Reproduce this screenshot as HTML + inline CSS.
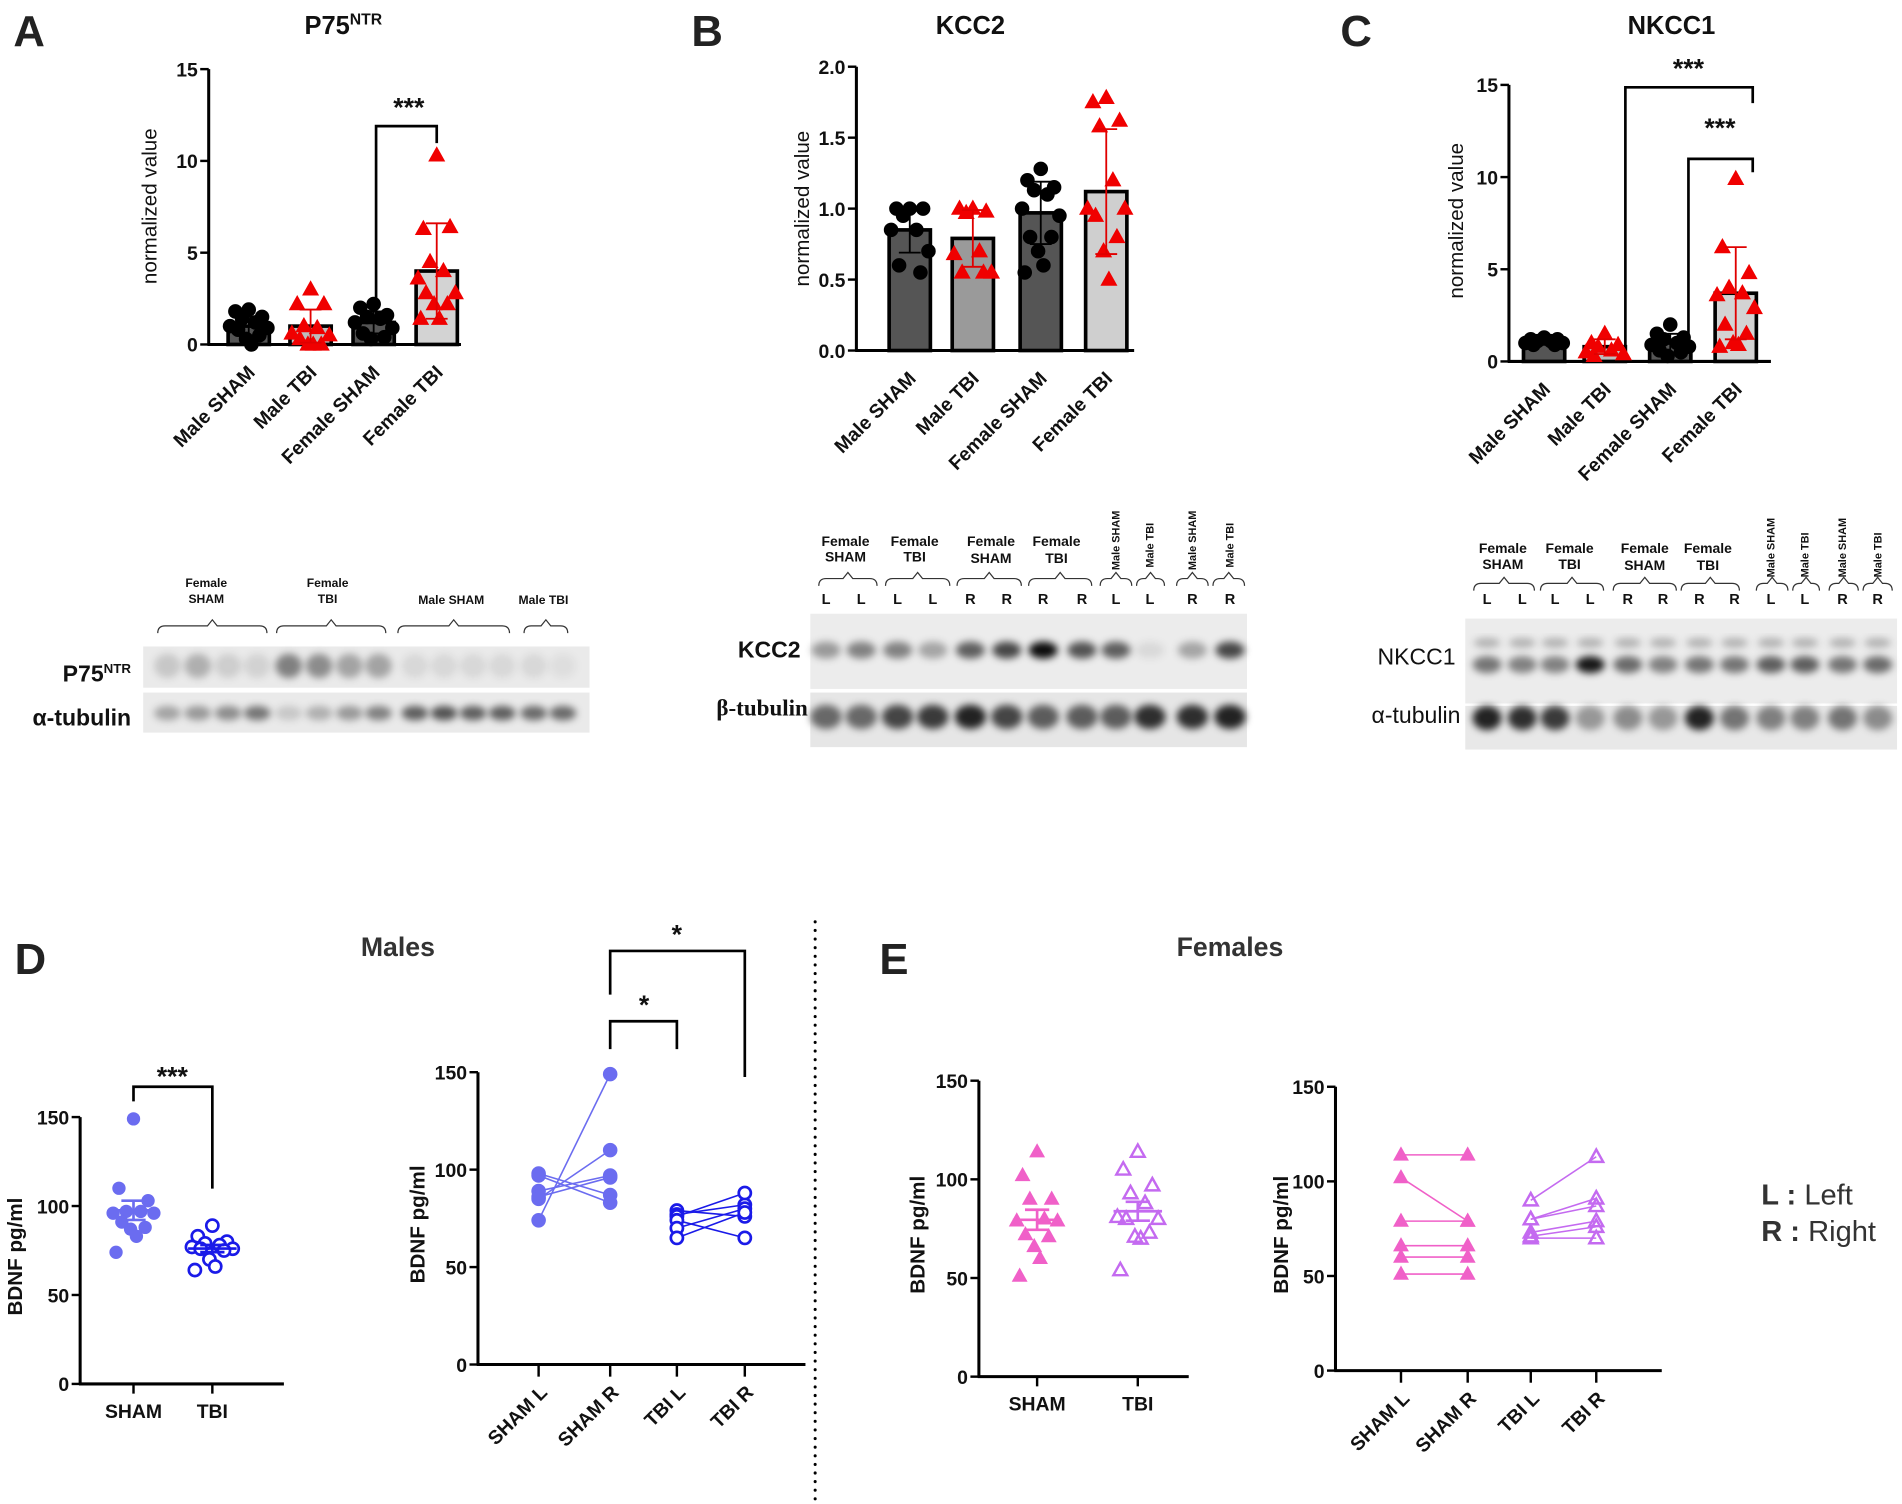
<!DOCTYPE html>
<html><head><meta charset="utf-8">
<style>
html,body{margin:0;padding:0;background:#fff;}
svg{display:block;font-family:"Liberation Sans",Arial,sans-serif;}
</style></head>
<body>
<svg id="fig" width="1902" height="1504" viewBox="0 0 1568 1240" xmlns="http://www.w3.org/2000/svg">
<defs>
<filter id="blur2" x="-50%" y="-50%" width="200%" height="200%"><feGaussianBlur stdDeviation="3"/></filter>
<filter id="blur1" x="-50%" y="-50%" width="200%" height="200%"><feGaussianBlur stdDeviation="1.5"/></filter>
</defs>
<g id="root"></g>
</svg>
<script>
// ---------- DATA ----------
const barCats = ["Male SHAM","Male TBI","Female SHAM","Female TBI"];
const p75Means = [1.0, 1.0, 1.2, 4.0];
const p75SD = [0.5, 0.9, 0.6, 2.6];
const p75Pts = [[1.9,1.8,1.5,1.4,1.2,1.0,0.9,0.8,0.5,0.3,0],[3.0,2.2,2.2,1.0,0.9,0.6,0.5,0.3,0,0,0],[2.2,2.0,1.6,1.5,1.4,1.2,0.9,0.6,0.4,0.3],[10.3,6.3,6.4,4.5,4.0,3.6,2.8,2.8,2.2,2.2,1.4,1.4]];
const p75Ticks = [0,5,10,15];
const kccMeans = [0.85, 0.79, 0.97, 1.12];
const kccSD = [0.16, 0.2, 0.22, 0.44];
const kccPts = [[1.0,1.0,1.0,0.95,0.85,0.85,0.7,0.6,0.55],[1.0,1.0,0.98,0.97,0.7,0.68,0.55,0.55,0.55],[1.28,1.2,1.15,1.13,1.1,1.0,0.95,0.8,0.8,0.7,0.6,0.55],[1.78,1.75,1.62,1.58,1.2,1.0,1.0,0.95,0.8,0.7,0.5]];
const kccTicks = [0,0.5,1.0,1.5,2.0];
const nkMeans = [1.1, 0.8, 1.0, 3.7];
const nkSD = [0.2, 0.4, 0.5, 2.5];
const nkPts = [[1.3,1.2,1.2,1.1,1.1,1.0,1.0,0.9,0.9],[1.5,1.0,0.9,0.8,0.6,0.5,0.4,0.3],[2.0,1.5,1.3,1.2,1.0,0.9,0.8,0.6,0.5,0.3],[9.9,6.2,4.8,4.0,3.7,3.6,2.9,2.0,1.5,1.0,0.9,0.8]];
const nkTicks = [0,5,10,15];

const dotCats = ["SHAM","TBI"];
const maleSham = [149,110,103,97,97,96,96,91,88,87,83,74];
const maleTbi = [89,83,80,79,78,77,76,76,75,70,66,64];
const femSham = [114,102,90,90,80,79,79,72,71,66,60,51];
const femTbi = [114,105,97,93,88,81,80,80,73,71,70,54];
const bdnfTicks = [0,50,100,150];
const pairCats = ["SHAM L","SHAM R","TBI L","TBI R"];
const maleShamL = [74,98,97,89,86,85];
const maleShamR = [149,87,83,97,96,110];
const maleTbiL = [79,77,76,74,70,65];
const maleTbiR = [76,82,88,65,80,78];
const femShamL = [114,102,79,66,60,51];
const femShamR = [114,79,79,66,60,51];
const femTbiL = [90,80,80,73,71,70];
const femTbiR = [113,91,87,79,76,70];

// ---------- HELPERS ----------
const NS="http://www.w3.org/2000/svg";
const root=document.getElementById('root');
function mk(tag,attrs,parent){const e=document.createElementNS(NS,tag);for(const k in attrs)e.setAttribute(k,attrs[k]);(parent||root).appendChild(e);return e;}
function txt(s,x,y,size,opts,parent){const o=Object.assign({x:x,y:y,'font-size':size,'font-weight':'bold','text-anchor':'middle',fill:'#111'},opts||{});const t=mk('text',o,parent);t.textContent=s;return t;}
function mean(a){return a.reduce((s,v)=>s+v,0)/a.length;}
function sem(a){const m=mean(a);return Math.sqrt(a.reduce((s,v)=>s+(v-m)*(v-m),0)/(a.length-1))/Math.sqrt(a.length);}
const jit=[0,-10,10,-5,5,-14,14,-8,8,-2,2,-12,12];

function axes(g,ax,ticks,fmt){
  const l=mk('line',{x1:ax.x0,y1:ax.yTop,x2:ax.x0,y2:ax.yBot,stroke:'#000','stroke-width':2.5},g);
  
  
  const b=mk('line',{x1:ax.x0-1,y1:ax.yBot,x2:ax.x1,y2:ax.yBot,stroke:'#000','stroke-width':2.5},g);
  
  
  ticks.forEach(t=>{const y=ax.y(t);
    mk('line',{x1:ax.x0-7,y1:y,x2:ax.x0,y2:y,stroke:'#000','stroke-width':2},g);
    const tl=txt(fmt(t),ax.x0-9,y+6,ax.fs||16,{'text-anchor':'end'},g);
    
    
  });
}
function tri(g,x,y,r,fill,stroke,open){
  const p=mk('polygon',{points:`${x},${y-r} ${x-r*0.95},${y+r*0.7} ${x+r*0.95},${y+r*0.7}`,fill:open?'none':fill,stroke:stroke,'stroke-width':open?2:1},g);
  return p;
}

function barChart(id,cx,means,sds,pts,ticks,ax,colors,fmt){
  const g=mk('g',{id:id});
  
  
  axes(g,ax,ticks,fmt);
  barCats.forEach((c,i)=>{
    const x=cx[i],w=34,ym=ax.y(means[i]);
    const r=mk('rect',{x:x-w/2,y:ym,width:w,height:ax.yBot-ym,fill:colors[i],stroke:'#000','stroke-width':3},g);
    
    
    const tbi=i%2===1;
    pts[i].forEach((v,k)=>{
      const px=x+jit[k%jit.length]*1.1,py=ax.y(v);
      let m;
      if(tbi){m=tri(g,px,py,6.5,'#f00000','#f00000',false);}
      else{m=mk('circle',{cx:px,cy:py,r:6,fill:'#000'},g);}
      
      
    });
    const ec=tbi?'#e00000':'#000';
    const y1=ax.y(Math.max(0,means[i]-sds[i])),y2=ax.y(means[i]+sds[i]);
    const e=mk('path',{d:`M${x},${y1}V${y2}M${x-9},${y1}H${x+9}M${x-9},${y2}H${x+9}`,stroke:ec,'stroke-width':1.5,fill:'none'},g);
    
    
    const lab=txt(c,0,0,16,{'text-anchor':'end',transform:`translate(${x+6},${ax.yBot+24}) rotate(-45)`},g);
    
    
  });
  return g;
}
function bracket(g,x1,ya,x2,yb,ytop,star,sx,sy){
  const p=mk('path',{d:`M${x1},${ya}V${ytop}H${x2}V${yb}`,stroke:'#000','stroke-width':2.2,fill:'none'},g);
  
  
  const s=txt(star,sx,sy,22,{},g);
  
  
}

// ---------- PANEL A ----------
const axA={x0:172,x1:380,yTop:57,yBot:284,y:v=>284-v*(227/15)};
const gA=barChart('chart-p75ntr',[205,256,308,360],p75Means,p75SD,p75Pts,p75Ticks,axA,['#555','#bdbdbd','#555','#d3d3d3'],t=>String(t));
bracket(gA,310,266,360,118,104,'***',337,96);
let t=txt('normalized value',0,0,17,{'font-weight':'normal',transform:'translate(129,170) rotate(-90)'});


t=mk('text',{x:283,y:28,'font-size':21,'font-weight':'bold','text-anchor':'middle',fill:'#111'});
t.innerHTML='P75<tspan font-size="13" dy="-8">NTR</tspan>';



// ---------- PANEL B ----------
const axB={x0:706,x1:935,yTop:55,yBot:289,y:v=>289-v*(234/2)};
const gB=barChart('chart-kcc2',[750,802,858,912],kccMeans,kccSD,kccPts,kccTicks,axB,['#555','#9a9a9a','#555','#cfcfcf'],t=>t.toFixed(1));
t=txt('normalized value',0,0,17,{'font-weight':'normal',transform:'translate(667,172) rotate(-90)'});


t=txt('KCC2',800,28,21);



// ---------- PANEL C ----------
const axC={x0:1244,x1:1460,yTop:70,yBot:298,y:v=>298-v*(228/15)};
const gC=barChart('chart-nkcc1',[1273,1323,1377,1431],nkMeans,nkSD,nkPts,nkTicks,axC,['#555','#bdbdbd','#555','#d3d3d3'],t=>String(t));
bracket(gC,1340,286,1445,85,72,'***',1392,64);
bracket(gC,1392,278,1445,142,131,'***',1418,113);
t=txt('normalized value',0,0,17,{'font-weight':'normal',transform:'translate(1206,182) rotate(-90)'});


t=txt('NKCC1',1378,28,21);



// panel letters
[['A',24,38],['B',583,38],['C',1118,38],['D',25,803],['E',737,803]].forEach(([L,x,y])=>{
  const e=txt(L,x,y,36,{'font-weight':'bold',fill:'#222'});
  
  
});

// ---------- BLOTS ----------
function blot(id,x,y,w,h,lanes,intens,bandY,bw,bh,bg){
  const g=mk('g',{id:id});
  
  
  mk('rect',{x:x,y:y,width:w,height:h,fill:bg||'#ececec'},g);
  lanes.forEach((lx,i)=>{
    const b=mk('ellipse',{cx:lx,cy:bandY,rx:bw,ry:bh,fill:'#000','fill-opacity':intens[i],filter:'url(#blur2)'},g);
    
    
  });
  return g;
}
function brace(x1,x2,y,g){
  const m=(x1+x2)/2;
  const p=mk('path',{d:`M${x1},${y+6}Q${x1},${y} ${x1+6},${y}H${m-4}L${m},${y-5}L${m+4},${y}H${x2-6}Q${x2},${y} ${x2},${y+6}`,stroke:'#333','stroke-width':1,fill:'none'},g);
  
  
}
// A blot
const lanesA=[138,163,188,212,238,263,288,312,342,366,390,414,440,464];
blot('blot-p75',118,533,368,34,lanesA,[0.15,0.25,0.12,0.1,0.45,0.4,0.3,0.3,0.08,0.08,0.08,0.08,0.08,0.05],549,11,10,'#eaeaea');
blot('blot-a-tubulin',118,571,368,33,lanesA,[0.3,0.35,0.4,0.5,0.15,0.25,0.35,0.45,0.6,0.65,0.6,0.6,0.55,0.55],588,11,6,'#eaeaea');
[['Female',170,484],['SHAM',170,497],['Female',270,484],['TBI',270,497],['Male SHAM',372,498],['Male TBI',448,498]].forEach(([s,x,y])=>{
  const e=txt(s,x,y,10,{});});
brace(130,220,516,root);brace(228,318,516,root);brace(328,420,516,root);brace(432,468,516,root);
t=mk('text',{x:108,y:562,'font-size':19,'font-weight':'bold','text-anchor':'end',fill:'#111'});
t.innerHTML='P75<tspan font-size="11" dy="-7">NTR</tspan>';


t=txt('α-tubulin',108,598,19,{'text-anchor':'end'});



// B blot
const lanesB=[681,710,740,769,800,830,860,892,920,948,983,1014];
blot('blot-kcc2',668,506,360,62,lanesB,[0.35,0.45,0.45,0.3,0.6,0.7,0.95,0.65,0.6,0.08,0.3,0.7],536,12,7);
blot('blot-b-tubulin',668,571,360,45,lanesB,[0.55,0.55,0.7,0.75,0.85,0.7,0.6,0.6,0.6,0.8,0.8,0.85],591,13,10,'#e6e6e6');
function lanesLabels(lanes,letters){lanes.forEach((lx,i)=>{const e=txt(letters[i],lx,498,12,{});});}
lanesLabels(lanesB,['L','L','L','L','R','R','R','R','L','L','R','R']);
[['Female',697,450],['SHAM',697,463],['Female',754,450],['TBI',754,463],['Female',817,450],['SHAM',817,464],['Female',871,450],['TBI',871,464]].forEach(([s,x,y])=>{
  const e=txt(s,x,y,11.5,{});});
[['Male SHAM',920],['Male TBI',948],['Male SHAM',983],['Male TBI',1014]].forEach(([s,x])=>{
  const e=txt(s,0,0,9,{'text-anchor':'start',transform:`translate(${x+3},${s==='Male TBI'?468:470}) rotate(-90)`});});
brace(675,723,477,root);brace(730,783,477,root);brace(789,842,477,root);brace(848,900,477,root);brace(907,933,477,root);brace(937,960,477,root);brace(970,996,477,root);brace(1000,1026,477,root);
t=txt('KCC2',660,542,19,{'text-anchor':'end'});


t=mk('text',{x:666,y:590,'font-size':19,'font-weight':'bold','text-anchor':'end',fill:'#111','font-family':'Liberation Serif,serif'});
t.textContent='β-tubulin';



// C blot
const lanesC=[1226,1255,1282,1311,1342,1371,1401,1430,1460,1488,1519,1548];
const gNk=blot('blot-nkcc1',1208,510,356,70,lanesC,[0.5,0.45,0.45,0.9,0.55,0.45,0.5,0.5,0.6,0.6,0.5,0.55],548,12,7);
lanesC.forEach((lx,i)=>{const b=mk('ellipse',{cx:lx,cy:530,rx:11,ry:4,fill:'#000','fill-opacity':0.25,filter:'url(#blur2)'},gNk);});
blot('blot-c-a-tubulin',1208,582,356,36,lanesC,[0.85,0.8,0.75,0.35,0.4,0.35,0.85,0.5,0.45,0.45,0.5,0.4],592,12,10,'#e8e8e8');
lanesLabels(lanesC.map(v=>v),['L','L','L','L','R','R','R','R','L','L','R','R']);
[['Female',1239,456],['SHAM',1239,469],['Female',1294,456],['TBI',1294,469],['Female',1356,456],['SHAM',1356,470],['Female',1408,456],['TBI',1408,470]].forEach(([s,x,y])=>{
  const e=txt(s,x,y,11.5,{});});
[['Male SHAM',1460],['Male TBI',1488],['Male SHAM',1519],['Male TBI',1548]].forEach(([s,x])=>{
  const e=txt(s,0,0,9,{'text-anchor':'start',transform:`translate(${x+3},476) rotate(-90)`});});
brace(1215,1265,481,root);brace(1270,1322,481,root);brace(1330,1382,481,root);brace(1386,1434,481,root);brace(1448,1474,481,root);brace(1478,1500,481,root);brace(1508,1532,481,root);brace(1536,1560,481,root);
t=txt('NKCC1',1200,548,19,{'text-anchor':'end','font-weight':'normal'});


t=txt('α-tubulin',1204,596,19,{'text-anchor':'end','font-weight':'normal'});



// ---------- PANEL D / E ----------
function dotChart(id,ax,cx,groups,colors,open,shape,labX){
  const g=mk('g',{id:id});
  
  
  axes(g,ax,bdnfTicks,t=>String(t));
  groups.forEach((arr,i)=>{
    const x=cx[i];
    mk('line',{x1:x,y1:ax.yBot,x2:x,y2:ax.yBot+8,stroke:'#000','stroke-width':2},g);
    arr.forEach((v,k)=>{
      const px=x+jit[k%jit.length]*1.2,py=ax.y(v);
      let m;
      if(shape==='tri'){m=tri(g,px,py,6,colors[i],colors[i],open[i]);}
      else{m=mk('circle',{cx:px,cy:py,r:open[i]?5:5.5,fill:open[i]?'#fff':colors[i],stroke:colors[i],'stroke-width':open[i]?2.2:0},g);}
      
      
    });
    const m=mean(arr),s=sem(arr);
    const e=mk('path',{d:`M${x-20},${ax.y(m)}H${x+20}M${x-10},${ax.y(m+s)}H${x+10}M${x-10},${ax.y(m-s)}H${x+10}M${x},${ax.y(m+s)}V${ax.y(m-s)}`,stroke:colors[i],'stroke-width':2.2,fill:'none'},g);
    
    
    const lab=txt(dotCats[i],x,ax.yBot+28,16,{'font-weight':'bold'},g);
    
    
  });
  const yl=txt('BDNF pg/ml',0,0,17,{transform:`translate(${labX},${(ax.yTop+ax.yBot)/2+5}) rotate(-90)`},g);
  
  
  return g;
}
function pairChart(id,ax,cx,lists,colors,open,shape,labX){
  const g=mk('g',{id:id});
  
  
  axes(g,ax,bdnfTicks,t=>String(t));
  pairCats.forEach((c,i)=>{
    mk('line',{x1:cx[i],y1:ax.yBot,x2:cx[i],y2:ax.yBot+10,stroke:'#000','stroke-width':2},g);
    const lab=txt(c,0,0,16,{'text-anchor':'end',transform:`translate(${cx[i]+8},${ax.yBot+24}) rotate(-45)`},g);
    
    
  });
  [[0,1],[2,3]].forEach(([a,b],gi)=>{
    lists[a].forEach((v,k)=>{
      const ln=mk('line',{x1:cx[a],y1:ax.y(v),x2:cx[b],y2:ax.y(lists[b][k]),stroke:colors[gi],'stroke-width':1.3},g);
      
      
    });
    [a,b].forEach(ci=>{
      lists[ci].forEach(v=>{
        let m;
        if(shape==='tri'){m=tri(g,cx[ci],ax.y(v),6,colors[gi],colors[gi],open[gi]);}
        else{m=mk('circle',{cx:cx[ci],cy:ax.y(v),r:open[gi]?5:6,fill:open[gi]?'#fff':colors[gi],stroke:colors[gi],'stroke-width':open[gi]?2.2:0},g);}
        
        
      });
    });
  });
  const yl=txt('BDNF pg/ml',0,0,17,{transform:`translate(${labX},${(ax.yTop+ax.yBot)/2+5}) rotate(-90)`},g);
  
  
  return g;
}
const mcol=['#6b6cf0','#1a1ae8'];
const fcol=['#f060c8','#c46af0'];
const axD1={x0:66,x1:234,yTop:921,yBot:1141,y:v=>1141-v*(220/150)};
const gD1=dotChart('chart-male-bdnf',axD1,[110,175],[maleSham,maleTbi],mcol,[false,true],'circle',18);
bracket(gD1,110,908,175,980,896,'***',142,895);
const axD2={x0:394,x1:664,yTop:884,yBot:1125,y:v=>1125-v*(241/150)};
const gD2=pairChart('chart-male-pairs',axD2,[444,503,558,614],[maleShamL,maleShamR,maleTbiL,maleTbiR],mcol,[false,true],'circle',350);
bracket(gD2,503,865,558,865,842,'*',531,836);
bracket(gD2,503,820,614,888,784,'*',558,778);
const axE1={x0:807,x1:980,yTop:891,yBot:1135,y:v=>1135-v*(244/150)};
dotChart('chart-female-bdnf',axE1,[855,938],[femSham,femTbi],fcol,[false,true],'tri',762);
const axE2={x0:1101,x1:1370,yTop:896,yBot:1130,y:v=>1130-v*(234/150)};
pairChart('chart-female-pairs',axE2,[1155,1210,1262,1316],[femShamL,femShamR,femTbiL,femTbiR],fcol,[false,true],'tri',1062);

t=txt('Males',328,788,22,{fill:'#333'});


t=txt('Females',1014,788,22,{fill:'#333'});


const dl=mk('line',{x1:672,y1:760,x2:672,y2:1238,stroke:'#000','stroke-width':2.5,'stroke-dasharray':'0.1 7','stroke-linecap':'round'});


t=mk('text',{x:1452,y:993,'font-size':24,fill:'#333'});
t.innerHTML='<tspan font-weight="bold">L :</tspan> Left';


t=mk('text',{x:1452,y:1023,'font-size':24,fill:'#333'});
t.innerHTML='<tspan font-weight="bold">R :</tspan> Right';


</script>
</body></html>
